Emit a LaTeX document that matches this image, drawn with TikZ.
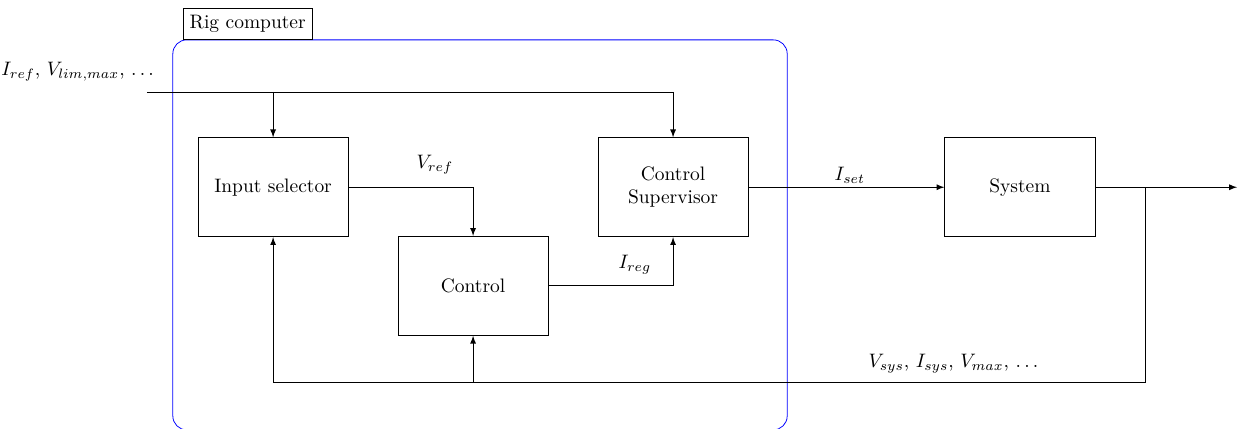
\documentclass[tikz,border=0pt]{standalone}
\usepackage{amsmath}
\usepackage{tikz}

\begin{document}
\begin{tikzpicture}[>=latex, block/.style={draw, minimum width=2.71cm, minimum height=1.79cm}]
            \useasboundingbox (0,0) rectangle (22.42,7.74);

            % blocks
            \node[block] (sel) at (4.93,4.36) {Input selector};
            \node[block] (ctrl) at (8.54,2.58) {Control};
            \node[block, align=center] (sup) at (12.15,4.36) {Control\\Supervisor};
            \node[block] (sys) at (18.41,4.36) {System};

            % rig computer frame
            \draw[blue, rounded corners=0.25cm] (3.12,-0.02) rectangle (14.21,7.02);
            \node[draw, fill=white, anchor=south west] (rig) at (3.30,7.03) {Rig computer};

            \coordinate (in) at (2.65,6.08);
            \coordinate (tap) at (20.67,4.36);
            \coordinate (out) at (22.33,4.36);
            \coordinate (fb) at (20.67,0.83);

            % inputs
            \draw (in) -- (sup.north |- in);
            \draw[->] (sel.north |- in) -- (sel.north);
            \draw[->] (sup.north |- in) -- (sup.north);

            \draw[->] (sel.east) -| (ctrl.north);
            \draw[->] (ctrl.east) -| (sup.south);
            \draw[->] (sup.east) -- (sys.west);
            \draw[->] (sys.east) -- (out);

            % feedback
            \draw[->] (tap) -- (fb) -| (sel.south);
            \draw[->] (ctrl.south |- fb) -- (ctrl.south);

            % labels
            \node (lin) at (1.43,6.44) {$I_{ref}$, $V_{lim,max}$, $\dots$};
            \node (lref) at (7.85,4.77) {$V_{ref}$};
            \node (lreg) at (11.46,2.96) {$I_{reg}$};
            \node (lset) at (15.34,4.58) {$I_{set}$};
            \node (lsys) at (17.24,1.17) {$V_{sys}$, $I_{sys}$, $V_{max}$, $\dots$};
\end{tikzpicture}
\end{document}
